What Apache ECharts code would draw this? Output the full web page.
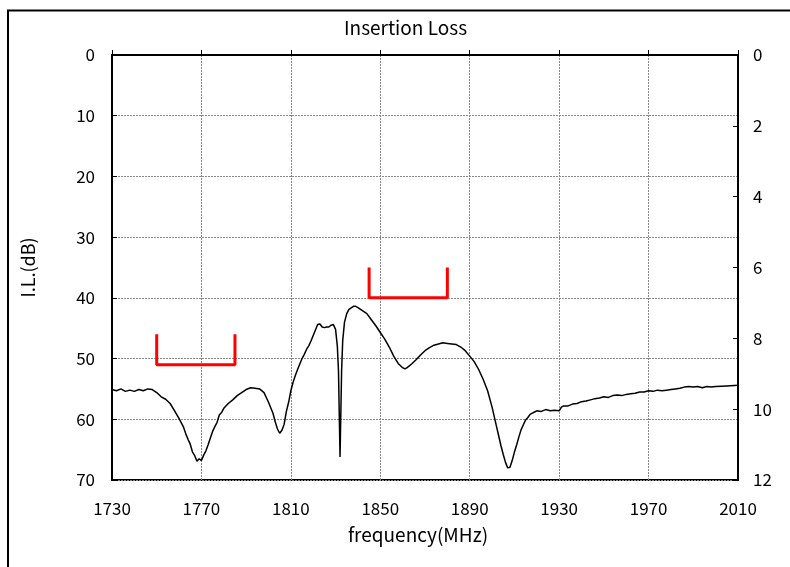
<!DOCTYPE html>
<html>
<head>
<meta charset="utf-8">
<script src="https://cdn.jsdelivr.net/npm/echarts@6/dist/echarts.min.js"></script>
<style>
  html, body { margin: 0; padding: 0; background: #fff; }
  #chart { width: 790px; height: 567px; }
</style>
</head>
<body>
<div id="chart"></div>
<script>
const freqs = [
  1730, 1732, 1734, 1736, 1738, 1740, 1742, 1744, 1746, 1748,
  1750, 1752, 1754, 1756, 1758, 1760, 1762, 1763, 1764, 1765,
  1766, 1767, 1768, 1769, 1770, 1771, 1772, 1773, 1774, 1775,
  1776, 1777, 1778, 1779, 1780, 1782, 1784, 1786, 1788, 1790,
  1792, 1794, 1796, 1798, 1800, 1802, 1803, 1804, 1805, 1806,
  1807, 1808, 1809, 1810, 1811, 1812, 1813, 1814, 1815, 1816,
  1817, 1818, 1819, 1820, 1821, 1822, 1823, 1824, 1825, 1826,
  1827, 1828, 1829, 1830, 1830.8, 1831.3, 1832, 1832.7, 1833.2, 1834,
  1835, 1836, 1838, 1839, 1840, 1842, 1844, 1846, 1848, 1850,
  1852, 1854, 1856, 1858, 1860, 1861, 1862, 1864, 1866, 1868,
  1870, 1872, 1874, 1876, 1878, 1880, 1882, 1884, 1886, 1888,
  1890, 1892, 1894, 1896, 1898, 1900, 1902, 1903, 1904, 1905,
  1906, 1907, 1908, 1909, 1910, 1911, 1912, 1913, 1914, 1915,
  1916, 1917, 1918, 1919, 1920, 1922, 1924, 1926, 1928, 1930,
  1931, 1932, 1934, 1936, 1938, 1940, 1942, 1944, 1946, 1948,
  1950, 1952, 1954, 1956, 1958, 1960, 1962, 1964, 1966, 1968,
  1970, 1972, 1974, 1976, 1978, 1980, 1982, 1984, 1986, 1988,
  1990, 1992, 1994, 1996, 1998, 2000, 2005, 2010
]
const lossDb = [
  55.1, 55.3, 55.0, 55.4, 55.2, 55.4, 55.1, 55.3, 55.0, 55.1,
  55.6, 56.3, 56.7, 57.4, 58.6, 59.9, 61.3, 62.4, 63.3, 64.1,
  65.4, 66.0, 66.9, 66.5, 66.8, 65.9, 65.2, 64.2, 63.1, 62.0,
  61.2, 60.5, 59.3, 58.9, 58.2, 57.4, 56.8, 56.1, 55.6, 55.1,
  54.8, 54.9, 55.0, 55.6, 57.2, 59.0, 60.4, 61.6, 62.3, 61.8,
  60.8, 58.7, 57.2, 55.3, 53.9, 52.8, 51.8, 50.9, 50.0, 49.3,
  48.5, 47.9, 47.1, 46.2, 45.3, 44.4, 44.3, 44.8, 44.9, 44.8,
  44.8, 44.5, 44.4, 45.2, 48.0, 52.0, 66.2, 52.0, 47.0, 44.0,
  42.6, 41.9, 41.4, 41.4, 41.6, 42.1, 42.6, 43.6, 44.6, 45.7,
  46.8, 48.1, 49.6, 50.8, 51.5, 51.7, 51.5, 50.9, 50.2, 49.4,
  48.7, 48.2, 47.8, 47.6, 47.4, 47.5, 47.6, 47.7, 48.1, 48.7,
  49.6, 50.5, 51.8, 53.4, 55.3, 58.0, 61.2, 62.8, 64.4, 65.8,
  67.1, 68.0, 67.9, 66.8, 65.4, 64.2, 62.9, 61.7, 60.9, 60.1,
  59.7, 59.2, 59.0, 58.8, 58.6, 58.7, 58.4, 58.6, 58.5, 58.6,
  58.0, 57.8, 57.8, 57.5, 57.4, 57.1, 57.0, 56.8, 56.6, 56.5,
  56.3, 56.4, 56.1, 56.0, 56.1, 55.9, 55.8, 55.7, 55.5, 55.5,
  55.3, 55.4, 55.2, 55.3, 55.2, 55.1, 55.0, 54.9, 54.7, 54.6,
  54.7, 54.6, 54.8, 54.6, 54.7, 54.6, 54.5, 54.4
]

// spec brackets (red)
const bracketLowF = [1750, 1750, 1785, 1785]
const bracketLowDb = [46, 51, 51, 46]
const bracketHighF = [1845, 1845, 1880, 1880]
const bracketHighDb = [35, 40, 40, 35]

const font = 'Noto Sans CJK JP'

const zip = (xs, ys) => xs.map((x, i) => [x, ys[i]])

const chart = echarts.init(document.getElementById('chart'))
const option = {
  animation: false,
  backgroundColor: '#fff',
  title: {
    text: 'Insertion Loss',
    left: 339, top: 13,
    textStyle: { fontFamily: font, fontSize: 19, fontWeight: 'normal', color: '#000' }
  },
  graphic: [{
    type: 'rect',
    shape: { x: 8, y: 10.5, width: 800, height: 600 },
    style: { fill: 'none', stroke: '#000', lineWidth: 2 },
    silent: true
  }],
  grid: {
    left: 112, right: 52, top: 55, bottom: 87,
    show: true, borderColor: '#000', borderWidth: 2
  },
  xAxis: {
    type: 'value',
    min: 1730, max: 2010, interval: 40,
    name: 'frequency(MHz)',
    nameLocation: 'middle',
    nameGap: 45,
    nameTextStyle: { fontFamily: font, fontSize: 19, color: '#000', padding: [0, 14, 0, 0] },
    axisLine: { lineStyle: { color: '#000', width: 2 } },
    axisTick: { inside: true, length: 5, lineStyle: { color: '#000' } },
    axisLabel: { margin: 20, fontFamily: font, fontSize: 17, color: '#000', formatter: v => String(v) },
    splitLine: { lineStyle: { color: '#888', type: [2, 1], width: 1 } }
  },
  yAxis: [{
    type: 'value',
    inverse: true,
    min: 0, max: 70, interval: 10,
    name: 'I.L.(dB)',
    nameLocation: 'middle',
    nameRotate: 90,
    nameGap: 75,
    nameTextStyle: { fontFamily: font, fontSize: 18, color: '#000' },
    axisLine: { show: true, lineStyle: { color: '#000', width: 2 } },
    axisTick: { show: true, inside: true, length: 5, lineStyle: { color: '#000' } },
    axisLabel: { margin: 17, fontFamily: font, fontSize: 17, color: '#000' },
    splitLine: { lineStyle: { color: '#888', type: [2, 1], width: 1 } }
  }, {
    type: 'value',
    inverse: true,
    position: 'right',
    min: 0, max: 12, interval: 2,
    axisLine: { show: true, lineStyle: { color: '#000', width: 2 } },
    axisTick: { show: true, inside: true, length: 5, lineStyle: { color: '#000' } },
    axisLabel: { margin: 15, fontFamily: font, fontSize: 17, color: '#000' },
    splitLine: { show: false }
  }],
  series: [{
    type: 'line',
    data: zip(freqs, lossDb),
    symbol: 'none',
    lineStyle: { color: '#000', width: 1.5 },
    z: 3
  }, {
    type: 'line',
    data: zip(bracketLowF, bracketLowDb),
    symbol: 'none',
    lineStyle: { color: '#ff0000', width: 3 },
    z: 4
  }, {
    type: 'line',
    data: zip(bracketHighF, bracketHighDb),
    symbol: 'none',
    lineStyle: { color: '#ff0000', width: 3 },
    z: 4
  }]
}
chart.setOption(option)
window.addEventListener('resize', () => chart.resize())
</script>
</body>
</html>
